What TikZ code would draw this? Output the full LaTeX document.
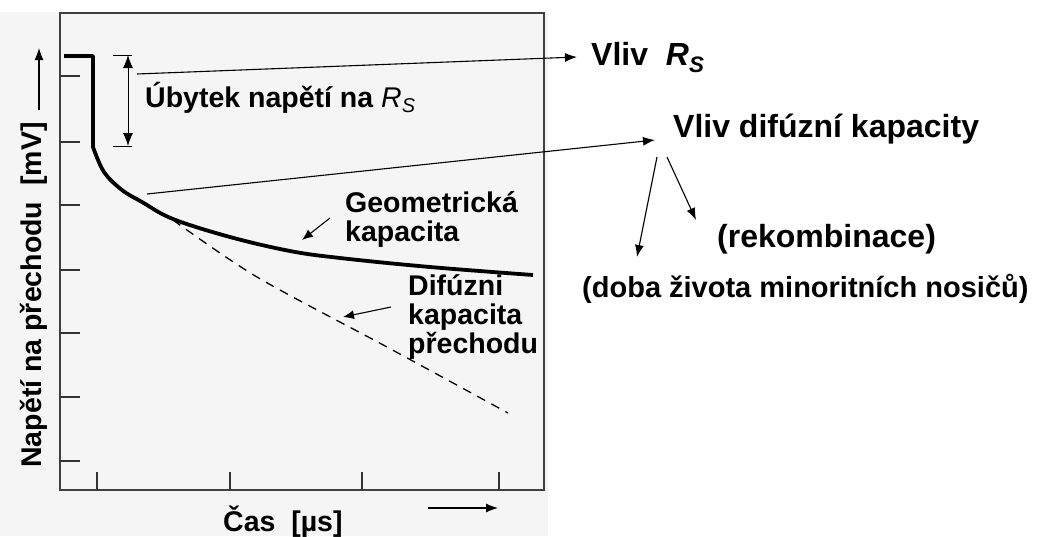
\documentclass[tikz,border=0pt]{standalone}
\usepackage{fontspec}
\setmainfont{Liberation Sans}
\usetikzlibrary{arrows.meta}

\begin{document}
\begin{tikzpicture}[x=1pt,y=-1pt,
    lbl/.style={anchor=base west,inner sep=0pt,align=left,font=\bfseries\fontsize{28.5}{29}\selectfont},
    big/.style={anchor=base west,inner sep=0pt,font=\bfseries\fontsize{32}{34}\selectfont},
    ptr/.style={-{Latex[length=12pt,width=9pt]},line width=1.1pt},
    tick/.style={line width=1.4pt,black!80}]
  \useasboundingbox (0,0) rectangle (1039,536);
  \fill[black!4] (0,12) rectangle (548,536);

  % frame and ticks
  \draw[line width=1.5pt,black!75] (60,13) rectangle (544,490);
  \foreach \y in {76,142,205,270,333,397,461}
    \draw[tick] (60,\y) -- (80,\y);
  \foreach \x in {97,230,362,499}
    \draw[tick] (\x,490) -- (\x,472);

  % curves
  \draw[line width=3.8pt,line join=round] (64,56) -- (93,56) -- plot[smooth,tension=0.6] coordinates
    {(93,147) (104,172) (122,190) (142,202) (173,219) (230,237) (290,251) (340,258) (430,267) (533,275)};
  \draw[line width=1.3pt,dash pattern=on 9pt off 7pt] plot[smooth] coordinates
    {(173,220) (257,277) (387,347) (508,413)};

  % axes
  \coordinate (yA) at (39,110);
  \coordinate (yB) at (39,48);
  \coordinate (xA) at (428,508);
  \coordinate (xB) at (498,508);
  \draw[ptr] (yA) -- (yB);
  \draw[ptr] (xA) -- (xB);
  \node[lbl,rotate=90,anchor=base] (ylab) at (41,295) {Napětí na přechodu\ \ [mV]};
  \node[lbl] (xlab) at (223,531) {Čas\ \ [µs]};

  % drop on Rs
  \coordinate (dTop) at (128,55);
  \coordinate (dBot) at (128,146);
  \draw[line width=1pt] (113,55) -- (132,55) (113,146) -- (132,146);
  \draw[{Latex[length=13pt,width=10pt]}-{Latex[length=13pt,width=10pt]},line width=1pt] (dTop) -- (dBot);
  \node[lbl] (ubytek) at (145,107) {Úbytek napětí na {\mdseries\itshape R\textsubscript{S}}};

  \node[lbl] (geom) at (345,241) {Geometrická\\kapacita};
  \node[lbl] (dif) at (408,353) {Difúzni\\kapacita\\přechodu};
  \coordinate (gA) at (330,218);
  \coordinate (gB) at (302,240);
  \coordinate (dA) at (391,307);
  \coordinate (dB) at (343,317);
  \draw[ptr,-{Latex[length=11pt,width=9pt]}] (gA) -- (gB);
  \draw[ptr,-{Latex[length=11pt,width=9pt]}] (dA) -- (dB);

  % right side
  \node[big] (vlivRs) at (591,65) {Vliv\ \ {\itshape R\textsubscript{S}}};
  \node[big] (vlivDif) at (673,137) {Vliv difúzní kapacity};
  \node[big] (rekomb) at (717,247) {(rekombinace)};
  \node[big,font=\bfseries\fontsize{29}{31}\selectfont] (doba) at (582,297) {(doba života minoritních nosičů)};

  \coordinate (rsFrom) at (137,74);
  \coordinate (rsTo) at (577,57);
  \coordinate (difFrom) at (147,194);
  \coordinate (difTo) at (655,140);
  \coordinate (fork1) at (657,157);
  \coordinate (fork2) at (667,157);
  \coordinate (dobaTo) at (637,257);
  \coordinate (rekTo) at (696,220);
  \path[ptr] (rsFrom) edge (rsTo)
             (difFrom) edge (difTo)
             (fork1) edge (dobaTo)
             (fork2) edge (rekTo);
\end{tikzpicture}
\end{document}
